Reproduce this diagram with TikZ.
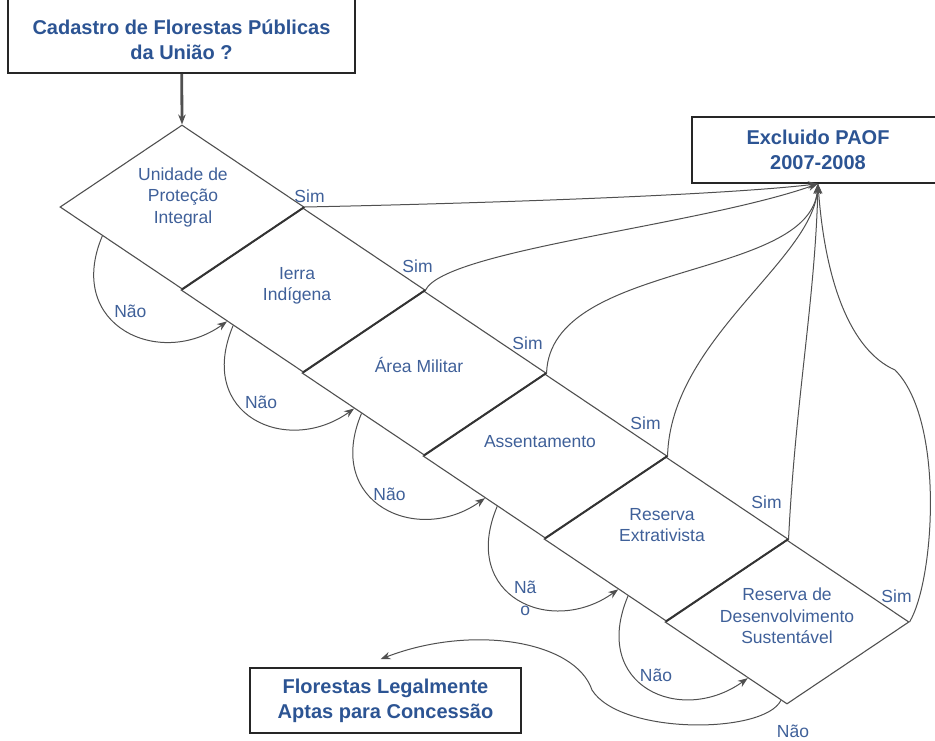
\documentclass[tikz,border=0pt]{standalone}
\usepackage{fontspec}
\setmainfont{Liberation Sans}
\usetikzlibrary{shapes.geometric,calc,arrows.meta}
\definecolor{titblue}{HTML}{2C5493}
\definecolor{lblblue}{HTML}{3F6099}
\definecolor{linegray}{HTML}{505050}

\begin{document}
\begin{tikzpicture}[x=1pt,y=-1pt,>={Stealth[length=10pt,width=7.5pt]},
    caixa/.style={draw=black!85,line width=1.6pt,align=center,inner sep=0pt,
        font=\fontsize{20}{25}\selectfont\bfseries,text=titblue},
    losango/.style={diamond,draw=linegray,line width=1.1pt,inner sep=0pt,
        minimum width=244pt,minimum height=164pt},
    rotulo/.style={align=center,font=\fontsize{17.5}{21.5}\selectfont,text=lblblue},
    liga/.style={draw=linegray,line width=1pt}]
    \useasboundingbox (0,0) rectangle (935,740);
    % caixas
    \node[caixa,minimum width=347pt,minimum height=90pt] (cad) at (181.5,28)
        {\rule{0pt}{38pt}Cadastro de Florestas Públicas\\da União ?};
    \node[caixa,minimum width=252pt,minimum height=66pt] (exc) at (818,150)
        {Excluido PAOF\\2007-2008};
    \node[caixa,minimum width=271pt,minimum height=65pt] (flor) at (385.5,700.5)
        {Florestas Legalmente\\Aptas para Concessão};
    % losangos em cadeia
    \foreach \k in {1,...,6}
        \node[losango] (d\k) at ({182+121*(\k-1)},{207+83*(\k-1)}) {};
    \foreach \k in {1,...,5}
        \draw[line width=1.8pt,black!80] (d\k.east) -- (d\k.south);
    \foreach \k/\txt/\dx/\dy in {1/{Unidade de\\Proteção\\Integral}/1/10,
            2/{Ierra\\Indígena}/-6/4, 3/{Área Militar}/-5/8,
            4/Assentamento/-5/14, 5/{Reserva\\Extrativista}/-4/14,
            6/{Reserva de\\Desenvolvimento\\Sustentável}/0/6}
        \node[rotulo] (t\k) at ($(d\k)+(\dx,-\dy)$) {\txt};
    \draw[->,line width=2.8pt,linegray] (cad) -- (d1.north);
    % Sim
    \draw[liga,->] (d1.east) .. controls +(150,-3) and +(-100,12) .. (exc.south);
    \draw[liga,->] (d2.east) .. controls +(20,-40) and +(-120,42) .. (exc.south);
    \draw[liga,->] (d3.east) .. controls +(4,-113) and +(-8,97) .. (exc.south);
    \draw[liga,->] (d4.east) .. controls +(3,-116) and +(-6,77) .. (exc.south);
    \draw[liga,->] (d5.east) .. controls +(7,-140) and +(-3,117) .. (exc.south);
    \coordinate (volta) at (895,370);
    \draw[liga,->] (d6.east) .. controls +(25,-42) and +(50,50) .. (volta)
        .. controls +(-45,-20) and +(7,97) .. (exc.south);
    \foreach \k/\dx/\dy in {1/5/-11, 2/-8/-24, 3/-19/-30, 4/-22/-33, 5/-22/-37, 6/-13/-26}
        \node[rotulo] at ($(d\k.east)+(\dx,\dy)$) {Sim};
    % Nao
    \foreach \k/\n/\a/\b/\txt/\dy in {1/2/.35/.38/Não/75, 2/3/.43/.43/Não/77,
            3/4/.49/.51/Não/81, 4/5/.61/.61/{Nã\\o}/92, 5/6/.69/.68/Não/79}{
        \coordinate (s\k) at ($(d\k.west)!\a!(d\k.south)$);
        \coordinate (e\k) at ($(d\n.west)!\b!(d\n.south)$);
        \draw[liga,->] (s\k) .. controls +(-38,90) and +(-67,48) .. (e\k);
        \node[rotulo] at ($(s\k)+(28,\dy)$) {\txt};
    }
    \coordinate (fim) at ($(d6.west)!0.95!(d6.south)$);
    \coordinate (meio) at (592,690);
    \draw[liga,->] (fim) .. controls +(-17,34) and +(28,45) .. (meio)
        .. controls +(-17,-50) and +(90,-35) .. ($(flor.north)+(-5,-8)$);
    \node[rotulo] at (793,731) {Não};
\end{tikzpicture}
\end{document}
